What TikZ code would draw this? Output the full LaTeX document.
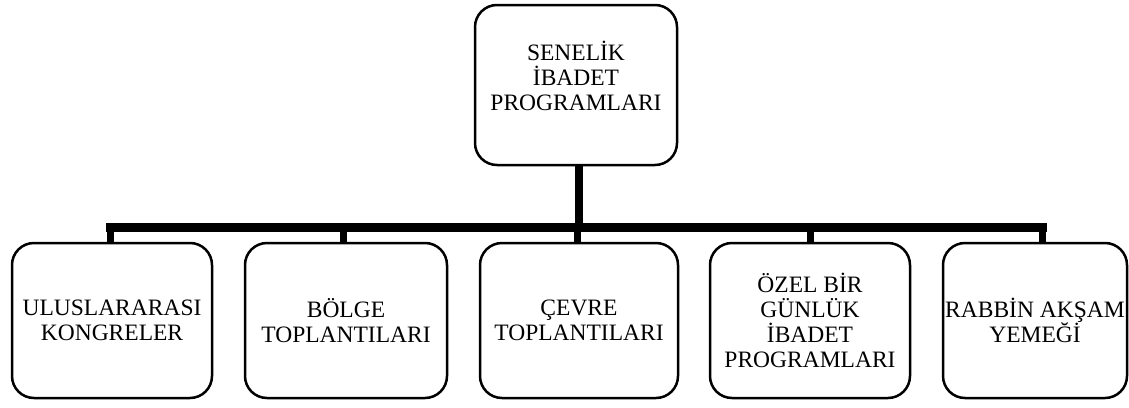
\documentclass[tikz,border=0pt]{standalone}
\usepackage{fontspec}
\setmainfont{Liberation Serif}
\begin{document}
\begin{tikzpicture}[x=1pt,y=-1pt,
  box/.style={draw=black,line width=2.5pt,rounded corners=22pt,align=center,
    font=\fontsize{23.5}{25}\selectfont,inner sep=2pt},
  conn/.style={draw=black,line width=7pt},
  barline/.style={draw=black,line width=9pt,line cap=rect}]
\useasboundingbox (0,0) rectangle (1129,407);
\fill[white] (0,0) rectangle (1129,407);
\node[box,minimum width=202pt,minimum height=160pt] (top) at (576,85) {SENELİK\\İBADET\\PROGRAMLARI\\[-6pt]\mbox{}};
\node[box,minimum width=200pt,minimum height=155pt] (b1) at (112,320.5) {ULUSLARARASI\\KONGRELER};
\node[box,minimum width=202pt,minimum height=155pt] (b2) at (346,320.5) {BÖLGE\\TOPLANTILARI};
\node[box,minimum width=198pt,minimum height=155pt] (b3) at (579,320.5) {ÇEVRE\\TOPLANTILARI};
\node[box,minimum width=200pt,minimum height=155pt] (b4) at (810,320.5) {ÖZEL BİR\\GÜNLÜK\\İBADET\\PROGRAMLARI};
\node[box,minimum width=184pt,minimum height=155pt] (b5) at (1035,320.5) {RABBİN AKŞAM\\YEMEĞİ};
\coordinate (j0) at (579,227.5);
\coordinate (j1) at (110,227.5);
\coordinate (j2) at (343,227.5);
\coordinate (j3) at (577,227.5);
\coordinate (j4) at (810,227.5);
\coordinate (j5) at (1042,227.5);
\draw[conn,line width=8pt] (top.south -| j0) -- (j0);
\draw[barline] (j1) -- (j5);
\draw[conn] (j1) -- (j1 |- b1.north);
\draw[conn] (j2) -- (j2 |- b2.north);
\draw[conn] (j3) -- (j3 |- b3.north);
\draw[conn] (j4) -- (j4 |- b4.north);
\draw[conn] (j5) -- (j5 |- b5.north);
\end{tikzpicture}
\end{document}
